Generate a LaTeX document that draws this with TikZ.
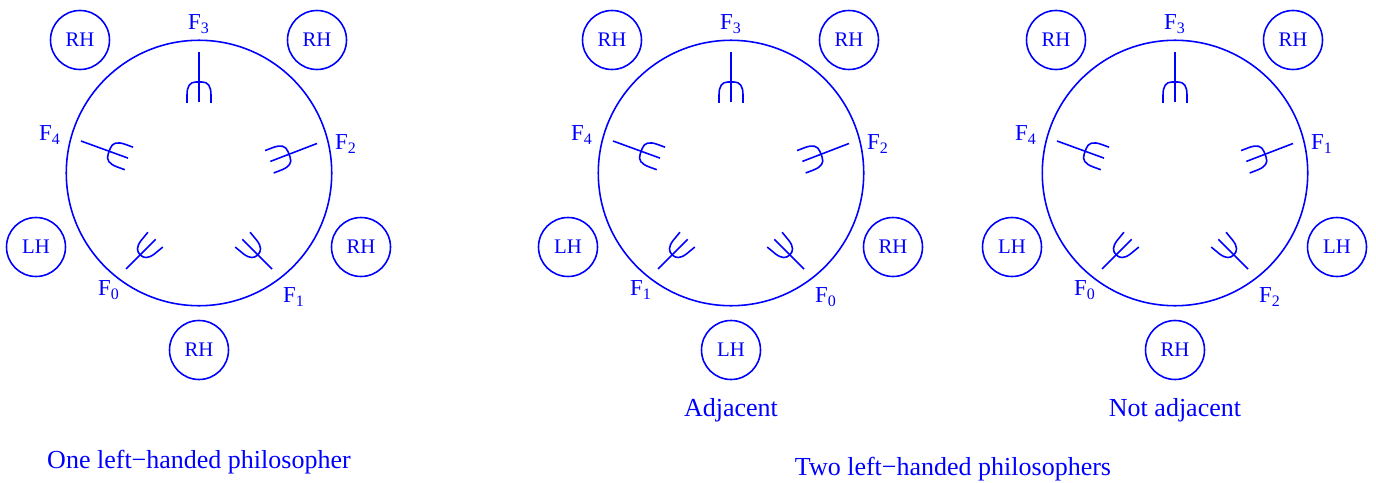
\documentclass[tikz,border=0pt]{standalone}
\usepackage{fontspec}
\setmainfont{Liberation Serif}
\newcommand{\fname}[1]{F\textsubscript{#1}}

\begin{document}
\begin{tikzpicture}[
  x=0.02cm, y=0.02cm,
  tabline/.style={draw=blue, line width=0.9pt},
  phil/.style={tabline, circle, minimum size=1.18cm, inner sep=0pt, text=blue, font=\fontsize{11.8}{13}\selectfont},
  forklab/.style={text=blue, inner sep=0pt, font=\fontsize{13}{15}\selectfont},
  caption/.style={text=blue, inner sep=0pt, font=\fontsize{14.8}{17}\selectfont},
  fork/.pic={
    \draw[tabline] (0,0) -- (0,-50);
    \draw[tabline] (-12,-51) -- (-12,-43) .. controls (-12,-34) and (-9,-30) .. (-3,-30) -- (3,-30)
      .. controls (9,-30) and (12,-34) .. (12,-43) -- (12,-51);
  },
  slantfork/.pic={
    \draw[tabline] (0,0) -- (0,-42);
    \draw[tabline] (-10.5,-41.5) -- (-9.5,-31) .. controls (-8.5,-23) and (-5,-20) .. (0,-20)
      .. controls (5,-20) and (8.5,-23) .. (9.5,-31) -- (10.5,-41.5);
  }]
\useasboundingbox (0,0) rectangle (1376,-483);

% one table per line: centre, then philosophers, then fork numbers
\foreach \cx/\tn/\pa/\pb/\pc/\pd/\pe/\fa/\fb/\fc/\fd/\fe in {
    199/one/RH/RH/LH/RH/RH/0/1/2/3/4,
    731/adj/RH/RH/LH/RH/LH/1/0/2/3/4,
    1175/nadj/RH/RH/LH/LH/RH/0/2/1/3/4} {
  \begin{scope}[shift={(\cx,-173)}]
    \node[tabline, circle, minimum size=5.31cm, inner sep=0pt] (\tn-table) at (0,0) {};
    \node[phil] (\tn-p1) at (-119,133) {\pa};
    \node[phil] (\tn-p2) at (118,133) {\pb};
    \node[phil] (\tn-p3) at (-163,-74) {\pc};
    \node[phil] (\tn-p4) at (162,-74) {\pd};
    \node[phil] (\tn-p5) at (0,-177) {\pe};
    \pic at (0,121) {fork};
    \pic[rotate=-69] at (118,29.5) {fork};
    \pic[rotate=70] at (-118,32) {fork};
    \pic[rotate=135] at (-73,-96) {slantfork};
    \pic[rotate=-135] at (73,-96) {slantfork};
    \node[forklab] (\tn-f1) at (-90,-117) {\fname{\fa}};
    \node[forklab] (\tn-f2) at (95,-124) {\fname{\fb}};
    \node[forklab] (\tn-f3) at (147,29) {\fname{\fc}};
    \node[forklab] (\tn-f4) at (0,149) {\fname{\fd}};
    \node[forklab] (\tn-f5) at (-149,38) {\fname{\fe}};
  \end{scope}
}

\node[caption] (adjcap) at (731,-410.5) {Adjacent};
\node[caption] (nadjcap) at (1175,-410.5) {Not adjacent};
\node[caption] (onecap) at (199,-462.5) {One left−handed philosopher};
\node[caption] (twocap) at (953,-469.5) {Two left−handed philosophers};
\end{tikzpicture}
\end{document}
